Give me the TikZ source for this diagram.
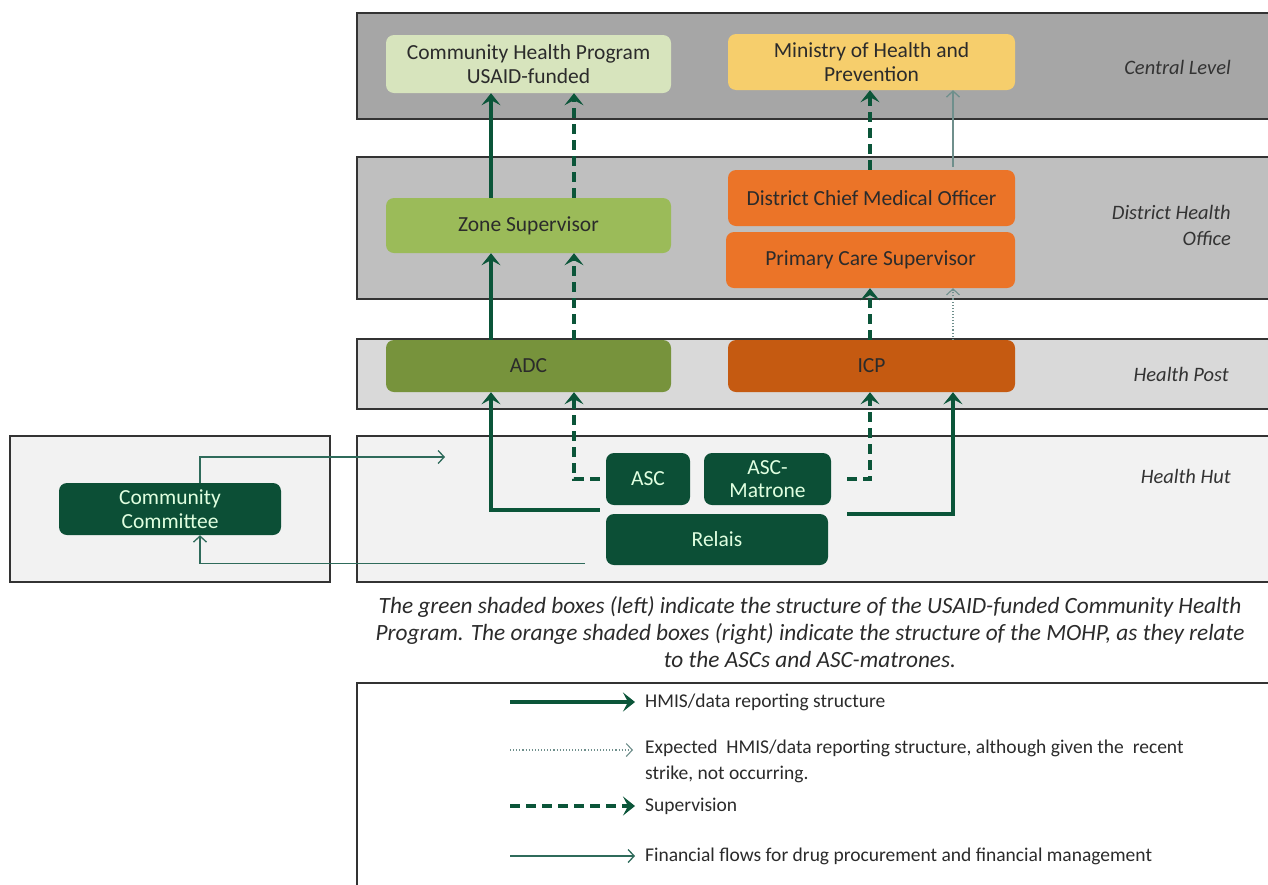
\documentclass[tikz,border=0pt]{standalone}
\usepackage{fontspec}
\setmainfont{Carlito}
\usetikzlibrary{arrows.meta,calc}
\definecolor{bandA}{HTML}{A6A6A6}
\definecolor{bandB}{HTML}{BFBFBF}
\definecolor{bandC}{HTML}{D9D9D9}
\definecolor{bandD}{HTML}{F2F2F2}
\definecolor{chpc}{HTML}{D7E4BD}
\definecolor{mohpc}{HTML}{F6CE6C}
\definecolor{zonec}{HTML}{9BBB59}
\definecolor{orc}{HTML}{EB7428}
\definecolor{icpc}{HTML}{C55A11}
\definecolor{adcc}{HTML}{77933C}
\definecolor{dkn}{HTML}{0C4F36}
\definecolor{arr}{HTML}{0B5539}
\definecolor{finc}{HTML}{2F6B5B}
\definecolor{fing}{HTML}{6F8F8C}
\definecolor{txd}{HTML}{2B2B2B}
\definecolor{lbl}{HTML}{333333}
\begin{document}
\begin{tikzpicture}[x=1pt,y=-1pt,
  band/.style={draw=black!80,line width=1.3pt},
  box/.style={rounded corners=8pt,inner sep=0pt,align=center,text=txd,
    font=\fontsize{21.5}{23.5}\selectfont},
  wbox/.style={box,fill=dkn,text=white!88!green},
  lvl/.style={font=\fontsize{20.5}{26}\itshape,text=lbl,align=right,inner sep=0pt},
  hmis/.style={draw=arr,line width=4pt,-{Stealth[length=12pt,width=19pt,inset=5pt]}},
  sup/.style={draw=arr,line width=4pt,dash pattern=on 10pt off 6pt,-{Stealth[length=12pt,width=19pt,inset=5pt]}},
  fin/.style={draw=finc,line width=1.3pt,-{Straight Barb[length=6pt,width=13pt]}},
  expct/.style={draw=fing,line width=1.1pt,dotted,-{Straight Barb[length=6pt,width=13pt]}},
  leg/.style={anchor=west,align=left,text=txd,inner sep=0pt,font=\fontsize{19.5}{26}\selectfont}]
\useasboundingbox (0,0) rectangle (1268,884);
\fill[white] (0,0) rectangle (1268,884);
% bands
\draw[band,fill=bandA] (357,13) rectangle (1275,119);
\draw[band,fill=bandB] (357,157) rectangle (1275,299);
\draw[band,fill=bandC] (357,339) rectangle (1275,409);
\draw[band,fill=bandD] (357,436) rectangle (1275,582);
\draw[band,fill=bandD] (10,436) rectangle (330,582);
% level labels
\node[lvl,anchor=east] (lcen) at (1231,67) {Central Level};
\node[lvl,anchor=east] (ldis) at (1231,225) {District Health\\Office};
\node[lvl,anchor=east] (lpost) at (1229,374) {Health Post};
\node[lvl,anchor=east] (lhut) at (1231,476) {Health Hut};
% boxes
\node[box,fill=chpc,minimum width=285pt,minimum height=58pt] (chp) at (528.5,64) {Community Health Program\\USAID-funded};
\node[box,fill=mohpc,minimum width=287pt,minimum height=56pt] (mohp) at (871.5,62) {Ministry of Health and\\Prevention};
\node[box,fill=zonec,minimum width=285pt,minimum height=55pt] (zone) at (528.5,225.5) {Zone Supervisor};
\node[box,fill=orc,minimum width=287pt,minimum height=56pt] (dcmo) at (871.5,198) {District Chief Medical Officer};
\node[box,fill=orc,minimum width=289pt,minimum height=56pt] (pcs) at (870.5,260) {Primary Care Supervisor};
\node[box,fill=adcc,minimum width=285pt,minimum height=52pt] (adc) at (528.5,366) {ADC};
\node[box,fill=icpc,minimum width=287pt,minimum height=52pt] (icp) at (871.5,366) {ICP};
\node[wbox,minimum width=84pt,minimum height=52pt] (asc) at (648,479) {ASC};
\node[wbox,minimum width=127pt,minimum height=52pt] (ascm) at (767.5,479) {ASC-\\Matrone};
\node[wbox,minimum width=222pt,minimum height=51pt] (relais) at (717,539.5) {Relais};
\node[wbox,minimum width=222pt,minimum height=52pt] (cc) at (170,509) {Community\\Committee};
% helper x positions
\coordinate (xL) at (491,0);
\coordinate (xLd) at (574,0);
\coordinate (xR) at (870,0);
\coordinate (xRt) at (953,0);
\coordinate (xCC) at (200,0);
\coordinate (hutin) at (445,457);
% arrows
\draw[hmis] (zone.north -| xL) -- (chp.south -| xL);
\draw[sup] (zone.north -| xLd) -- (chp.south -| xLd);
\draw[hmis] (adc.north -| xL) -- (zone.south -| xL);
\draw[sup] (adc.north -| xLd) -- (zone.south -| xLd);
\draw[hmis] ($(relais.north west)+(-6,-4)$) -| (adc.south -| xL);
\draw[sup] ($(asc.west)+(-6,0)$) -| (adc.south -| xLd);
\draw[sup] ($(ascm.east)+(16,0)$) -| (icp.south -| xR);
\draw[hmis] ($(relais.north east)+(19,0)$) -| (icp.south -| xRt);
\draw[sup] (icp.north -| xR) -- (pcs.south -| xR);
\draw[expct] (icp.north -| xRt) -- (pcs.south -| xRt);
\draw[sup] (dcmo.north -| xR) -- (mohp.south -| xR);
\draw[fin,draw=fing] ($(dcmo.north -| xRt)+(0,-3)$) -- (mohp.south -| xRt);
\draw[fin] (cc.north -| xCC) |- (hutin);
\draw[fin] ($(relais.south west)+(-21,-2)$) -| (cc.south -| xCC);
% caption
\node[align=center,font=\fontsize{23.3}{27}\itshape,text=txd] (cap) at (810,632)
  {The green shaded boxes (left) indicate the structure of the USAID-funded Community Health\\
   Program. The orange shaded boxes (right) indicate the structure of the MOHP, as they relate\\
   to the ASCs and ASC-matrones.};
% legend
\draw[line width=1.3pt,draw=black!80] (357,683) rectangle (1275,890);
\node[leg] (l1) at (645,702) {HMIS/data reporting structure};
\node[leg] (l2) at (645,761) {Expected\ \ HMIS/data reporting structure, although given the\ \ recent\\strike, not occurring.};
\node[leg] (l3) at (645,806) {Supervision};
\node[leg] (l4) at (645,856) {Financial flows for drug procurement and financial management};
\coordinate (s1) at (510,702);
\coordinate (s2) at (510,750);
\coordinate (s3) at (510,806);
\coordinate (s4) at (510,856);
\draw[hmis] (s1) -- ($(l1.west)+(-10,0)$);
\draw[expct] (s2) -- ($(s2 -| l2.west)+(-12,0)$);
\draw[sup] (s3) -- ($(l3.west)+(-10,0)$);
\draw[fin] (s4) -- ($(l4.west)+(-10,0)$);
\end{tikzpicture}
\end{document}
